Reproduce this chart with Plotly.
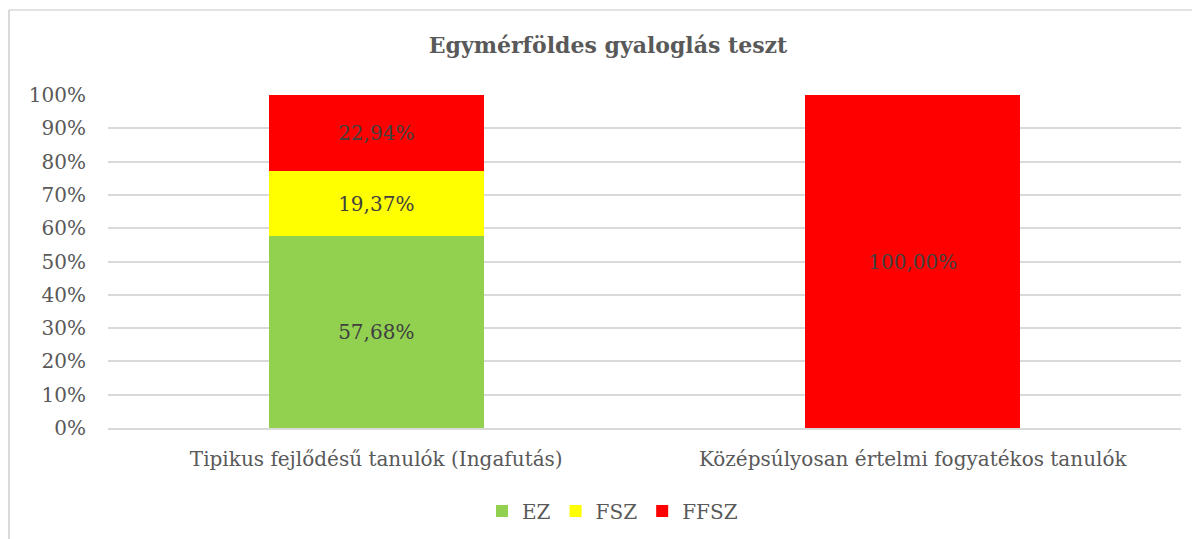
import plotly.graph_objects as go

categories = ["Tipikus fejlődésű tanulók (Ingafutás)", "Középsúlyosan értelmi fogyatékos tanulók"]
series_names = ["EZ", "FSZ", "FFSZ"]
ez_values = [57.68, None]
fsz_values = [19.37, None]
ffsz_values = [22.94, 100.00]
tick_vals = [0, 10, 20, 30, 40, 50, 60, 70, 80, 90, 100]
tick_text = [f"{v}%" for v in tick_vals]
colors = ["#92D050", "#FFFF00", "#FF0000"]

FONT = "DejaVu Serif"
OFF = 8  # page body margin
W, H = 1200, 539
L, R, T, B = 108 - OFF, 19 + OFF, 95 - OFF, 111 + OFF
PW, PH = W - L - R, H - T - B

fig = go.Figure()
for name, vals, col in zip(series_names, [ez_values, fsz_values, ffsz_values], colors):
    fig.add_trace(go.Bar(
        x=categories, y=vals, name=name,
        marker=dict(color=col, line=dict(width=0)),
        texttemplate="%{y:.2f}%", textposition="inside", insidetextanchor="middle",
        textfont=dict(family=FONT, size=20, color="#404040"),
        hoverinfo="skip",
    ))

fig.update_layout(
    barmode="stack",
    bargap=0.6,
    width=W, height=H,
    margin=dict(l=L, r=R, t=T, b=B, autoexpand=False),
    paper_bgcolor="white", plot_bgcolor="white",
    separators=", ",
    title=dict(text="<b>Egymérföldes gyaloglás teszt</b>", x=0.5, xanchor="center",
               xref="container",
               y=1 - (45 - OFF) / H, yanchor="middle",
               font=dict(family=FONT, size=22, color="#595959")),
    font=dict(family=FONT, color="#595959"),
    showlegend=True,
    legend=dict(orientation="h", x=0.5 - 32 / PW, xanchor="center", y=-83 / PH, yanchor="middle",
                font=dict(family=FONT, size=20, color="#595959"),
                itemwidth=30, traceorder="normal"),
    uniformtext=dict(mode=False),
)
fig.update_xaxes(showline=True, linecolor="#D9D9D9", linewidth=1.5, ticks="",
                 tickfont=dict(family=FONT, size=20, color="#595959"), ticklabelstandoff=12)
fig.update_yaxes(range=[0, 100], tickvals=tick_vals, ticktext=tick_text,
                 showgrid=True, gridcolor="#D9D9D9", gridwidth=1.5, zeroline=False,
                 tickfont=dict(family=FONT, size=20, color="#595959"), ticklabelstandoff=21)

# outer chart border (left and top edges visible)
bx = (1 - L) / PW
by = (H - B - 2) / PH
fig.add_shape(type="line", xref="paper", yref="paper",
              x0=bx, x1=bx, y0=-B / PH, y1=by,
              line=dict(color="#D9D9D9", width=2))
fig.add_shape(type="line", xref="paper", yref="paper",
              x0=bx, x1=(W - L) / PW, y0=by, y1=by,
              line=dict(color="#D9D9D9", width=1.5))

fig.write_html("out.html")
